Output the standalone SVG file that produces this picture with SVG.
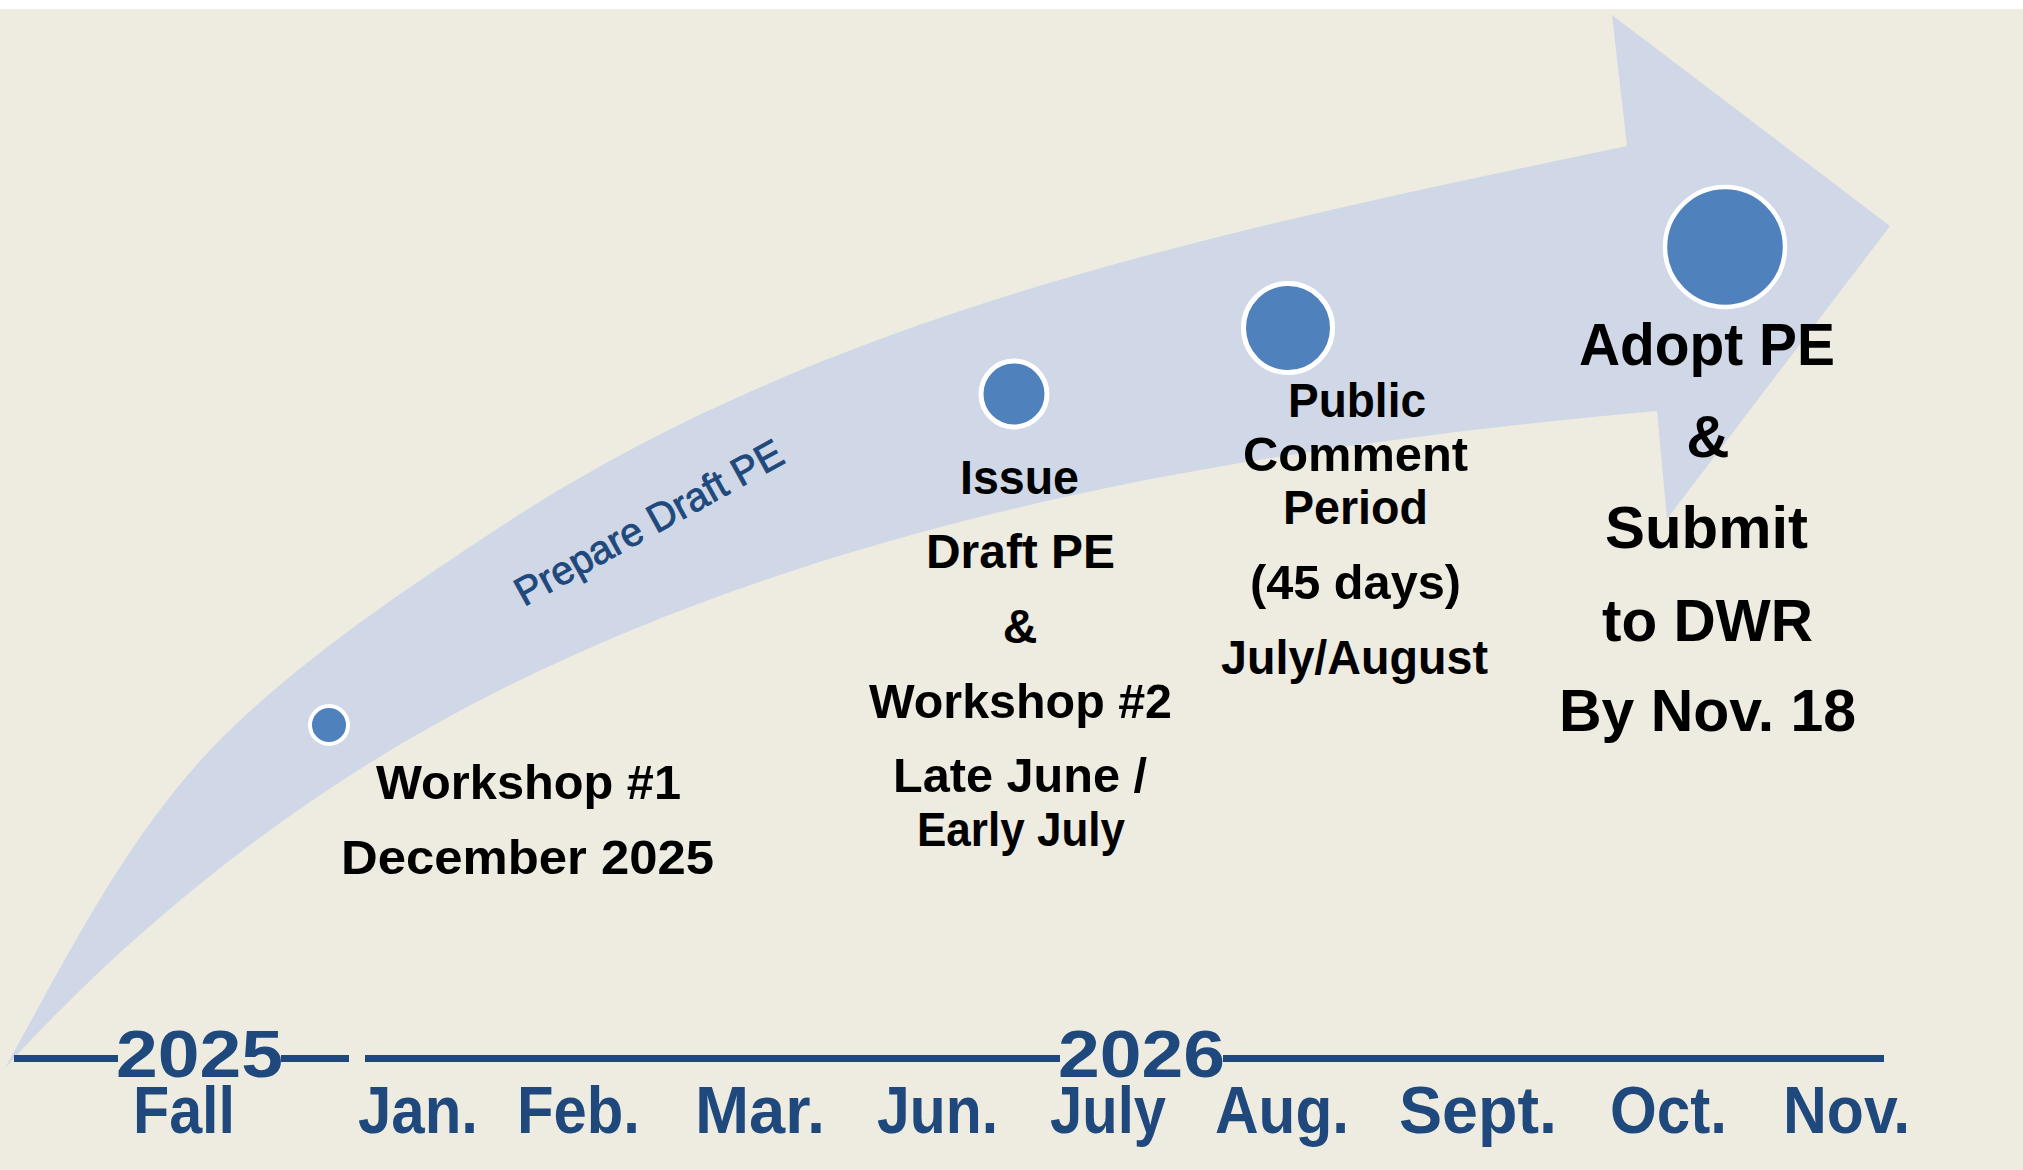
<svg xmlns="http://www.w3.org/2000/svg" width="2023" height="1170" viewBox="0 0 2023 1170">
<style>
.blk{font-family:"Liberation Sans",Arial,sans-serif;font-weight:bold;fill:#000;font-size:48px}
.big{font-size:60px}
.tl{font-family:"Liberation Sans",Arial,sans-serif;font-weight:bold;fill:#1F497D;font-size:66px}
.dot{fill:#4F81BD;stroke:#FFFFFF}
.axis{stroke:#1F497D;stroke-width:7;fill:none}
</style>
<rect x="0" y="0" width="2023" height="1170" fill="#FFFFFF"/>
<rect x="0" y="9" width="2023" height="1161" fill="#EEEBE0"/>
<g id="arrow">
<path d="M5,1068 C71.8,948.4 133.7,821.3 233,727 C313.4,650.6 407.3,588.2 500,527 C831,308.5 1239,227.5 1627,146 L1612,15 L1890,226 L1667,519 L1657,411 C1262,446.6 855,512.5 500,690 C314,783 145,914 5,1068 Z" fill="#D0D8E8"/>
<text x="524" y="607" transform="rotate(-28.9 524 607)" font-family="'Liberation Sans',Arial,sans-serif" font-size="40" fill="#1F497D" stroke="#1F497D" stroke-width="0.9" textLength="300" lengthAdjust="spacingAndGlyphs">Prepare Draft PE</text>
</g>
<g id="connectors">
<line class="axis" x1="14" y1="1058.5" x2="118" y2="1058.5"/>
<line class="axis" x1="281" y1="1058.5" x2="349" y2="1058.5"/>
<line class="axis" x1="365" y1="1058.5" x2="1060" y2="1058.5"/>
<line class="axis" x1="1223" y1="1058.5" x2="1884" y2="1058.5"/>
</g>
<g id="timeline-labels">
<text class="tl" x="116" y="1077" textLength="167" lengthAdjust="spacingAndGlyphs">2025</text>
<text class="tl" x="1058" y="1077" textLength="167" lengthAdjust="spacingAndGlyphs">2026</text>
<text class="tl" x="133" y="1133" textLength="102" lengthAdjust="spacingAndGlyphs">Fall</text>
<text class="tl" x="358" y="1133" textLength="120" lengthAdjust="spacingAndGlyphs">Jan.</text>
<text class="tl" x="517" y="1133" textLength="123" lengthAdjust="spacingAndGlyphs">Feb.</text>
<text class="tl" x="695" y="1133" textLength="130" lengthAdjust="spacingAndGlyphs">Mar.</text>
<text class="tl" x="877" y="1133" textLength="121" lengthAdjust="spacingAndGlyphs">Jun.</text>
<text class="tl" x="1050" y="1133" textLength="116" lengthAdjust="spacingAndGlyphs">July</text>
<text class="tl" x="1215" y="1133" textLength="134" lengthAdjust="spacingAndGlyphs">Aug.</text>
<text class="tl" x="1399" y="1133" textLength="158" lengthAdjust="spacingAndGlyphs">Sept.</text>
<text class="tl" x="1610" y="1133" textLength="117" lengthAdjust="spacingAndGlyphs">Oct.</text>
<text class="tl" x="1783" y="1133" textLength="127" lengthAdjust="spacingAndGlyphs">Nov.</text>
</g>
<g id="workshop1">
<circle class="dot" cx="329" cy="725" r="19" stroke-width="4"/>
<text class="blk" x="376" y="799" textLength="305" lengthAdjust="spacingAndGlyphs">Workshop #1</text>
<text class="blk" x="341" y="874" textLength="373" lengthAdjust="spacingAndGlyphs">December 2025</text>
</g>
<g id="issue-draft">
<circle class="dot" cx="1014" cy="394" r="33" stroke-width="5"/>
<text class="blk" x="960" y="494" textLength="119" lengthAdjust="spacingAndGlyphs">Issue</text>
<text class="blk" x="926" y="568" textLength="189" lengthAdjust="spacingAndGlyphs">Draft PE</text>
<text class="blk" x="1020" y="643" text-anchor="middle">&amp;</text>
<text class="blk" x="869" y="718" textLength="303" lengthAdjust="spacingAndGlyphs">Workshop #2</text>
<text class="blk" x="893" y="792" textLength="254" lengthAdjust="spacingAndGlyphs">Late June /</text>
<text class="blk" x="917" y="846" textLength="208" lengthAdjust="spacingAndGlyphs">Early July</text>
</g>
<g id="public-comment">
<circle class="dot" cx="1288" cy="328" r="44.5" stroke-width="5"/>
<text class="blk" x="1288" y="417" textLength="138" lengthAdjust="spacingAndGlyphs">Public</text>
<text class="blk" x="1243" y="471" textLength="225" lengthAdjust="spacingAndGlyphs">Comment</text>
<text class="blk" x="1283" y="524" textLength="145" lengthAdjust="spacingAndGlyphs">Period</text>
<text class="blk" x="1250" y="599" textLength="211" lengthAdjust="spacingAndGlyphs">(45 days)</text>
<text class="blk" x="1221" y="674" textLength="267" lengthAdjust="spacingAndGlyphs">July/August</text>
</g>
<g id="adopt-submit">
<circle class="dot" cx="1725" cy="247" r="60" stroke-width="4.5"/>
<text class="blk big" x="1579" y="365" textLength="256" lengthAdjust="spacingAndGlyphs">Adopt PE</text>
<text class="blk big" x="1708" y="457" text-anchor="middle">&amp;</text>
<text class="blk big" x="1605" y="548" textLength="203" lengthAdjust="spacingAndGlyphs">Submit</text>
<text class="blk big" x="1602" y="641" textLength="211" lengthAdjust="spacingAndGlyphs">to DWR</text>
<text class="blk big" x="1559" y="731" textLength="297" lengthAdjust="spacingAndGlyphs">By Nov. 18</text>
</g>
</svg>
